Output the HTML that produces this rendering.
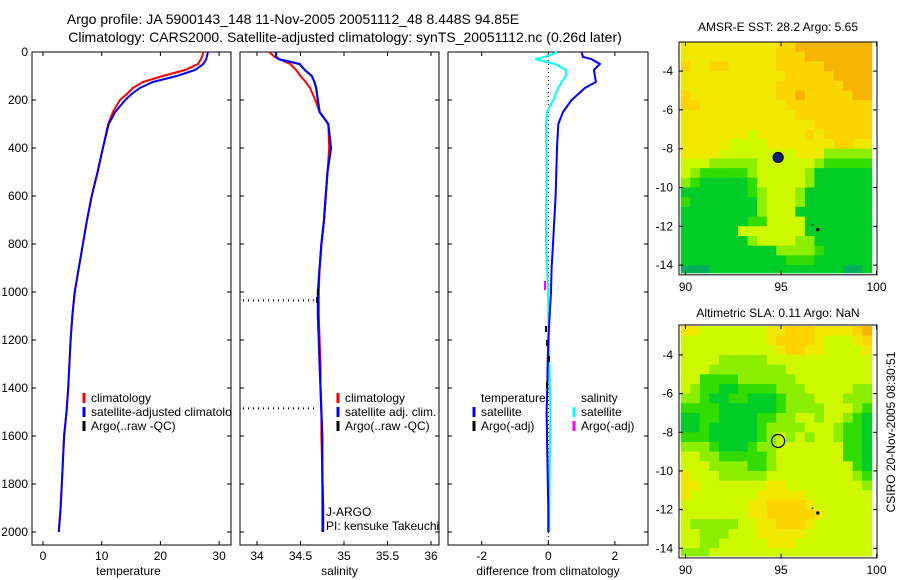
<!DOCTYPE html>
<html><head><meta charset="utf-8"><style>
body{margin:0;background:#fff;}
svg{display:block;font-family:"Liberation Sans",sans-serif;}
text{font-size:12px;fill:#000;}
</style></head><body>
<svg id="c" width="900" height="580">
<defs><clipPath id="p1clip"><rect x="32" y="52" width="199" height="493"/></clipPath></defs>
<text x="293" y="24" text-anchor="middle" style="font-size:14px">Argo profile: JA 5900143_148 11-Nov-2005 20051112_48 8.448S 94.85E</text>
<text x="345" y="42" text-anchor="middle" style="font-size:14px">Climatology: CARS2000. Satellite-adjusted climatology: synTS_20051112.nc (0.26d later)</text>
<text x="778" y="31" text-anchor="middle">AMSR-E SST: 28.2 Argo: 5.65</text>
<text x="778" y="317" text-anchor="middle">Altimetric SLA: 0.11 Argo: NaN</text>
<text transform="translate(895,432) rotate(-90)" text-anchor="middle">CSIRO 20-Nov-2005 08:30:51</text>
</svg>
<script>
const depths=[0,10,20,30,50,75,100,125,150,175,200,250,300,400,500,600,700,800,900,1000,1100,1200,1300,1400,1500,1600,1750,1900,2000];
const tempClim=[27.3,27.2,27.1,26.9,26.4,24.2,20.4,17.0,15.3,14.3,13.1,11.9,11.1,10.2,9.3,8.3,7.5,6.8,6.1,5.4,5.0,4.7,4.5,4.3,4.0,3.6,3.3,3.0,2.7];
const tempSat=[28.1,28.0,27.9,27.8,27.3,25.9,22.8,18.7,16.5,15.1,14.0,12.3,11.2,10.2,9.3,8.3,7.5,6.8,6.1,5.4,5.0,4.7,4.5,4.3,4.0,3.6,3.3,3.0,2.7];
const salClim=[34.14,34.17,34.2,34.26,34.38,34.45,34.5,34.56,34.61,34.64,34.67,34.72,34.82,34.83,34.81,34.79,34.77,34.74,34.72,34.71,34.71,34.72,34.73,34.73,34.74,34.74,34.75,34.75,34.75];
const salSat=[34.22,34.22,34.22,34.25,34.49,34.55,34.63,34.66,34.68,34.69,34.7,34.72,34.82,34.85,34.81,34.79,34.77,34.74,34.72,34.70,34.70,34.71,34.72,34.73,34.74,34.75,34.75,34.76,34.76];
const diffTemp=[1.0,1.02,1.04,1.3,1.55,1.37,1.4,1.43,1.1,0.9,0.7,0.44,0.3,0.26,0.24,0.22,0.18,0.14,0.1,0.08,0.04,0.0,-0.02,-0.03,-0.05,-0.04,-0.02,0.0,0.0];
const diffSal=[0.26,0.1,-0.1,-0.4,0.2,0.53,0.53,0.4,0.3,0.22,0.15,-0.04,-0.07,-0.06,-0.05,-0.06,-0.07,-0.07,-0.04,-0.01,0.0,0.02,0.03,0.05,0.06,0.05,0.04,0.03,0.03];
const depthTicks=[0,200,400,600,800,1000,1200,1400,1600,1800,2000];
const tempTicks=[0,10,20,30];
const salTicks=[34,34.5,35,35.5,36];
const diffTicks=[-2,0,2];
const latTicks=[-4,-6,-8,-10,-12,-14];
const lonTicks=[90,95,100];
const sstGrid=["55555555556677777777","55555555556667777777","65566555556666677777","55555555555666667777","55555555556666666777","65555555556676666677","66555555555666666666","55555555555566666666","55555555555555666666","55555554555556566666","55555444455555556655","55554444444455533333","44433333444444322222","43222223444443111111","32111112444443111111","11111112344431111111","21111111344431111111","11111111344411111111","11111112244441111111","11111144444441111111","11111113444433111111","11111111113333211111","11111111111222111111","00011111111111111001"];
const slaGrid=["55444444455666555567","44444444456666544456","44444444445665544445","44443333344444444444","44433333333444444444","44222233333344444444","43221122223334444433","33211221112333444333","22221111112333344432","11221111223344344321","11211111233334443221","22211111234343443221","33321112334444444221","44332222234444444221","44433332234444444421","54443333344444444432","55444444455444444443","54444444555554444444","44444445566665444444","44444445566666544444","43333344556665444444","44333444555554444444","44334444455544444444","33344444444444444444"];
const argoLon=94.85, argoLat=-8.45;
</script>
<script>
const svg=document.getElementById('c');const NS='http://www.w3.org/2000/svg';
function mk(tag,attrs,parent){const e=document.createElementNS(NS,tag);for(const k in attrs)e.setAttribute(k,attrs[k]);(parent||svg).appendChild(e);return e;}
const Y=d=>52+d*0.24;
const panels=[
 {l:32,r:231,x:v=>43+v*5.87,ticks:tempTicks,label:'temperature',name:'temperature-panel'},
 {l:240,r:439,x:v=>257+(v-34)*87,ticks:salTicks,label:'salinity',name:'salinity-panel'},
 {l:448,r:648,x:v=>548.3+v*33.3,ticks:diffTicks,label:'difference from climatology',name:'difference-panel'}];
const PT=52,PB=545;
panels.forEach((p,pi)=>{
 const g=mk('g',{});
 
 
 mk('rect',{x:p.l,y:PT,width:p.r-p.l,height:PB-PT,fill:'none',stroke:'#000','stroke-width':1},g);
 depthTicks.forEach(d=>{const y=Y(d);
  mk('line',{x1:p.l,y1:y,x2:p.l+4,y2:y,stroke:'#000'},g);mk('line',{x1:p.r-4,y1:y,x2:p.r,y2:y,stroke:'#000'},g);
  if(pi==0){const t=mk('text',{x:p.l-4,y:y+4,'text-anchor':'end'},g);t.textContent=d;
   
   }
 });
 p.ticks.forEach(v=>{const x=p.x(v);
  mk('line',{x1:x,y1:PB,x2:x,y2:PB-4,stroke:'#000'},g);mk('line',{x1:x,y1:PT,x2:x,y2:PT+4,stroke:'#000'},g);
  const t=mk('text',{x:x,y:PB+15,'text-anchor':'middle'},g);t.textContent=v;
  
  });
 const cx=pi==2?548:(p.l+p.r)/2-(pi==0?3:0);
 const lt=mk('text',{x:cx,y:575,'text-anchor':'middle'},g);lt.textContent=p.label;
 
 
});
function line(vals,fx,color,w,name){
 const pts=vals.map((v,i)=>fx(v).toFixed(1)+','+Y(depths[i]).toFixed(1)).join(' ');
 const e=mk('polyline',{points:pts,fill:'none',stroke:color,'stroke-width':w});
 
 
}
line(tempClim,panels[0].x,'#f00',2,'temp-climatology-line');
line(tempSat,panels[0].x,'#00f',2,'temp-satellite-line');
line(salClim,panels[1].x,'#f00',2,'sal-climatology-line');
line(salSat,panels[1].x,'#00f',2.2,'sal-satellite-line');
mk('line',{x1:548.3,y1:52,x2:548.3,y2:545,stroke:'#000','stroke-dasharray':'1,3'});
line(diffSal,panels[2].x,'#0ff',2,'diff-sal-satellite-line');
line(diffTemp,panels[2].x,'#00f',2,'diff-temp-satellite-line');
[1035,1485].forEach(d=>{const e=mk('line',{x1:243,y1:Y(d),x2:318,y2:Y(d),stroke:'#000','stroke-width':2,'stroke-dasharray':'1,4'});
 
 });
[[318,289],[317,297],[546,326],[547,340],[549,356],[547,382]].forEach(a=>{mk('line',{x1:a[0],y1:a[1],x2:a[0],y2:a[1]+6,stroke:'#000','stroke-width':2});});
mk('line',{x1:545,y1:281,x2:545,y2:290,stroke:'#f0f','stroke-width':2});
function leg(x,y,color,txt,name,clip){mk('line',{x1:x,y1:y-9,x2:x,y2:y+1,stroke:color,'stroke-width':3});
 const t=mk('text',{x:x+7,y:y});t.textContent=txt;
 if(clip)t.setAttribute('clip-path','url(#p1clip)');
 
 }
leg(84,402,'#f00','climatology','legend-climatology');
leg(84,416,'#00f','satellite-adjusted climatology','legend-satellite-adjusted',true);
leg(84,430,'#000','Argo(..raw -QC)','legend-argo');
leg(338,402,'#f00','climatology','legend-sal-climatology');
leg(338,416,'#00f','satellite adj. clim.','legend-sal-satellite');
leg(338,430,'#000','Argo(..raw -QC)','legend-sal-argo');
let t=mk('text',{x:481,y:402});t.textContent='temperature';
t=mk('text',{x:581,y:402});t.textContent='salinity';
leg(474,416,'#00f','satellite','legend-diff-temp-satellite');
leg(474,430,'#000','Argo(-adj)','legend-diff-temp-argo');
leg(574,416,'#0ff','satellite','legend-diff-sal-satellite');
leg(574,430,'#f0f','Argo(-adj)','legend-diff-sal-argo');
t=mk('text',{x:326,y:516});t.textContent='J-ARGO';
t=mk('text',{x:326,y:530});t.textContent='PI: kensuke Takeuchi';
const pal=['rgb(0,175,90)','rgb(0,205,40)','rgb(50,220,0)','rgb(140,238,0)','rgb(205,248,0)','rgb(240,232,0)','rgb(252,212,0)','rgb(245,180,0)','rgb(230,140,0)'];
function map(grid,topY,latTop,latPerPx,name,filled){
 const g=mk('g',{});
 
 
 const lonX=l=>685.5+(l-90)*19.1;
 const latY=la=>topY+(latTop-la)*latPerPx;
 const bottomY=latY(-14.5);
 grid.forEach((row,ri)=>{for(let ci=0;ci<row.length;ci++){
  const la0=-2.5-ri*0.5, lo0=89.75+ci*0.5;
  const x0=Math.max(679,lonX(lo0)), x1=Math.min(877,lonX(lo0+0.5));
  const y0=Math.max(topY,latY(la0)), y1=Math.min(bottomY-2,latY(la0-0.5));
  const r=mk('rect',{x:x0,y:y0,width:x1-x0+0.5,height:y1-y0+0.5,fill:pal[+row[ci]]},g);
  
  
 }});
 mk('rect',{x:679,y:topY,width:198,height:bottomY-topY,fill:'none',stroke:'#000'},g);
 latTicks.forEach(la=>{const y=latY(la);mk('line',{x1:679,y1:y,x2:683,y2:y,stroke:'#000'},g);mk('line',{x1:873,y1:y,x2:877,y2:y,stroke:'#000'},g);
  const tt=mk('text',{x:673,y:y+4,'text-anchor':'end'},g);tt.textContent=la;
  
  });
 lonTicks.forEach(lo=>{const x=lonX(lo);mk('line',{x1:x,y1:topY,x2:x,y2:topY+4,stroke:'#000'},g);mk('line',{x1:x,y1:bottomY,x2:x,y2:bottomY-4,stroke:'#000'},g);
  const tt=mk('text',{x:x,y:bottomY+16,'text-anchor':'middle'},g);tt.textContent=lo;
  
  });
 const ax=lonX(argoLon),ay=latY(argoLat);
 const c=mk('circle',{cx:ax,cy:ay,r:filled?5:6.5,fill:filled?'#002080':'none',stroke:'#000','stroke-width':1.2},g);
 
 
 mk('rect',{x:lonX(96.9)-1,y:latY(-12.15)-1,width:3,height:3,fill:'#000'},g);
 mk('rect',{x:lonX(96.6),y:latY(-11.9),width:2,height:1,fill:'#000'},g);
}
map(sstGrid,42,-2.5,19.4,'sst-map',true);
map(slaGrid,325,-2.45,19.33,'sla-map',false);
</script>
</body></html>
